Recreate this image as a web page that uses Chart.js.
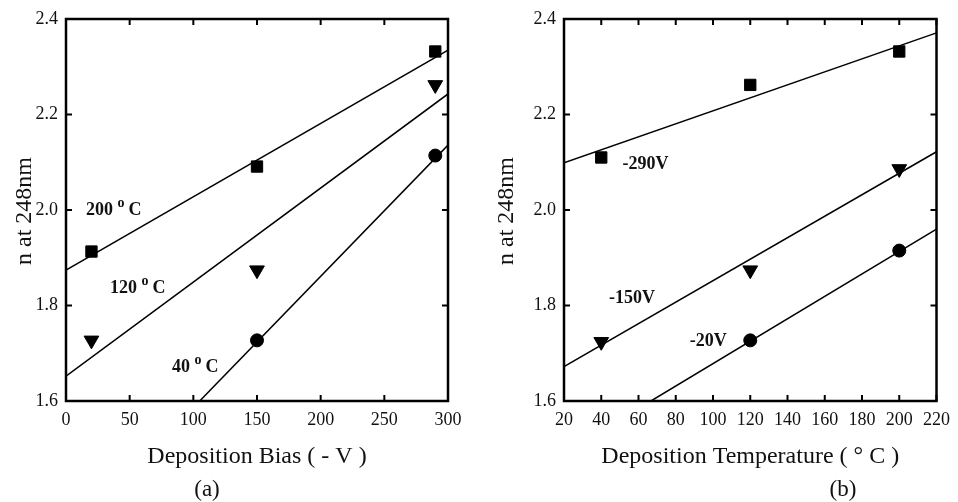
<!DOCTYPE html>
<html>
<head>
<meta charset="utf-8">
<script src="https://cdn.jsdelivr.net/npm/chart.js@4.4.1/dist/chart.umd.min.js"></script>
<style>
  html, body { margin: 0; padding: 0; background: #fff; }
  #wrap { position: relative; width: 958px; height: 502px; }
  canvas { position: absolute; top: 0; }
  #chartA { left: 0; }
  #chartB { left: 479px; }
</style>
</head>
<body>
<div id="wrap">
  <canvas id="chartA" width="479" height="502"></canvas>
  <canvas id="chartB" width="479" height="502"></canvas>
</div>
<script>
// ---- panel (a): n vs deposition bias ----
const biasX = [20, 150, 290];
const n200C = [1.913, 2.091, 2.332];
const n120C = [1.727, 1.874, 2.262];
const bias40X = [150, 290];
const n40C = [1.727, 2.114];
// fitted lines (end points)
const fitBiasX = [0, 300];
const fit200C = [1.874, 2.335];
const fit120C = [1.652, 2.243];
const fit40X = [105, 300];
const fit40C = [1.6, 2.136];

// ---- panel (b): n vs deposition temperature ----
const tempX = [40, 120, 200];
const n290V = [2.110, 2.262, 2.332];
const n150V = [1.724, 1.874, 2.086];
const temp20X = [120, 200];
const n20V = [1.727, 1.915];
const fitTempX = [20, 220];
const fit290V = [2.099, 2.371];
const fit150V = [1.672, 2.122];
const fit20X = [66.7, 220];
const fit20V = [1.6, 1.960];

const SERIF = '"Liberation Serif", "DejaVu Serif", serif';
const INK = '#111';

function pts(xs, ys) {
    return xs.map((x, i) => ({ x: x, y: ys[i] }));
}

function markers(xs, ys, style) {
    const cfg = {
        data: pts(xs, ys),
        showLine: false,
        backgroundColor: '#000',
        borderColor: '#000',
        borderWidth: 1
    };
    if (style === 'square') {
        cfg.pointStyle = 'rect';
        cfg.pointRadius = 8;
    } else if (style === 'triangle') {
        cfg.pointStyle = 'triangle';
        cfg.pointRotation = 180;
        cfg.pointRadius = 8.5;
    } else {
        cfg.pointStyle = 'circle';
        cfg.pointRadius = 6.5;
    }
    return cfg;
}

function fitLine(xs, ys) {
    return {
        data: pts(xs, ys),
        showLine: true,
        pointRadius: 0,
        borderColor: '#000',
        borderWidth: 1.5,
        fill: false
    };
}

// frame, inward ticks, labels and titles
const decorPlugin = {
    id: 'decor',
    afterDraw(chart, args, opts) {
        const ctx = chart.ctx;
        const a = chart.chartArea;
        const x = chart.scales.x, y = chart.scales.y;
        ctx.save();
        ctx.strokeStyle = '#000';
        ctx.lineWidth = 2.5;
        ctx.strokeRect(a.left, a.top, a.right - a.left, a.bottom - a.top);
        ctx.lineWidth = 2;
        ctx.beginPath();
        x.ticks.forEach(t => {
            const px = x.getPixelForValue(t.value);
            ctx.moveTo(px, a.bottom); ctx.lineTo(px, a.bottom - 6);
            ctx.moveTo(px, a.top); ctx.lineTo(px, a.top + 6);
        });
        y.ticks.forEach(t => {
            const py = y.getPixelForValue(t.value);
            ctx.moveTo(a.left, py); ctx.lineTo(a.left + 6, py);
            ctx.moveTo(a.right, py); ctx.lineTo(a.right - 6, py);
        });
        ctx.stroke();

        // curve labels
        ctx.fillStyle = INK;
        ctx.textBaseline = 'alphabetic';
        ctx.textAlign = 'left';
        opts.labels.forEach(l => {
            let px = x.getPixelForValue(l.x);
            const py = y.getPixelForValue(l.y);
            ctx.font = 'bold 18px ' + SERIF;
            ctx.fillText(l.text, px, py);
            if (l.sup) {
                px += ctx.measureText(l.text).width;
                ctx.font = 'bold 14px ' + SERIF;
                ctx.fillText(l.sup, px, py - 8);
                px += ctx.measureText(l.sup).width + 4;
                ctx.font = 'bold 18px ' + SERIF;
                ctx.fillText(l.tail, px, py);
            }
        });

        // axis titles and panel tag
        ctx.font = '24px ' + SERIF;
        ctx.textAlign = 'center';
        ctx.textBaseline = 'middle';
        ctx.fillText(opts.xTitle, (a.left + a.right) / 2, a.bottom + 56);
        ctx.font = '23px ' + SERIF;
        ctx.fillText(opts.tag, opts.tagX, 490);
        ctx.font = '24px ' + SERIF;
        ctx.translate(opts.yTitleX, (a.top + a.bottom) / 2 + 1);
        ctx.rotate(-Math.PI / 2);
        ctx.fillText('n at 248nm', 0, 0);
        ctx.restore();
    }
};

function makePanel(id, datasets, xCfg, pad, yWidth, decor) {
    return new Chart(document.getElementById(id), {
        type: 'scatter',
        data: { datasets: datasets },
        options: {
            responsive: false,
            animation: false,
            layout: { padding: pad },
            plugins: {
                legend: { display: false },
                tooltip: { enabled: false },
                decor: decor
            },
            scales: {
                x: {
                    type: 'linear',
                    min: xCfg.min,
                    max: xCfg.max,
                    grid: { display: false, drawTicks: false },
                    border: { display: false },
                    ticks: {
                        stepSize: xCfg.step,
                        padding: 8,
                        color: INK,
                        font: { family: SERIF, size: 18 }
                    },
                    afterFit: s => { s.height = 101; }
                },
                y: {
                    type: 'linear',
                    min: 1.6,
                    max: 2.4,
                    grid: { display: false, drawTicks: false },
                    border: { display: false },
                    ticks: {
                        stepSize: 0.2,
                        padding: 8,
                        color: INK,
                        font: { family: SERIF, size: 18 },
                        callback: v => v.toFixed(1)
                    },
                    afterFit: s => { s.width = yWidth; }
                }
            }
        },
        plugins: [decorPlugin]
    });
}

makePanel('chartA', [
    fitLine(fitBiasX, fit200C),
    fitLine(fitBiasX, fit120C),
    fitLine(fit40X, fit40C),
    markers(biasX, n200C, 'square'),
    markers(biasX, n120C, 'triangle'),
    markers(bias40X, n40C, 'circle')
], { min: 0, max: 300, step: 50 }, { left: 0, right: 31, top: 19, bottom: 0 }, 66, {
    xTitle: 'Deposition Bias ( - V )',
    tag: '(a)',
    tagX: 207,
    yTitleX: 25,
    labels: [
        { text: '200 ', sup: 'o', tail: 'C', x: 15.7, y: 1.99 },
        { text: '120 ', sup: 'o', tail: 'C', x: 34.6, y: 1.826 },
        { text: '40 ', sup: 'o', tail: 'C', x: 83.3, y: 1.661 }
    ]
});

makePanel('chartB', [
    fitLine(fitTempX, fit290V),
    fitLine(fitTempX, fit150V),
    fitLine(fit20X, fit20V),
    markers(tempX, n290V, 'square'),
    markers(tempX, n150V, 'triangle'),
    markers(temp20X, n20V, 'circle')
], { min: 20, max: 220, step: 20 }, { left: 0, right: 13, top: 19, bottom: 0 }, 85, {
    xTitle: 'Deposition Temperature ( \u00B0 C )',
    tag: '(b)',
    tagX: 364,
    yTitleX: 28,
    labels: [
        { text: '-290V', x: 51.4, y: 2.085 },
        { text: '-150V', x: 44.1, y: 1.806 },
        { text: '-20V', x: 87.5, y: 1.715 }
    ]
});
</script>
</body>
</html>
